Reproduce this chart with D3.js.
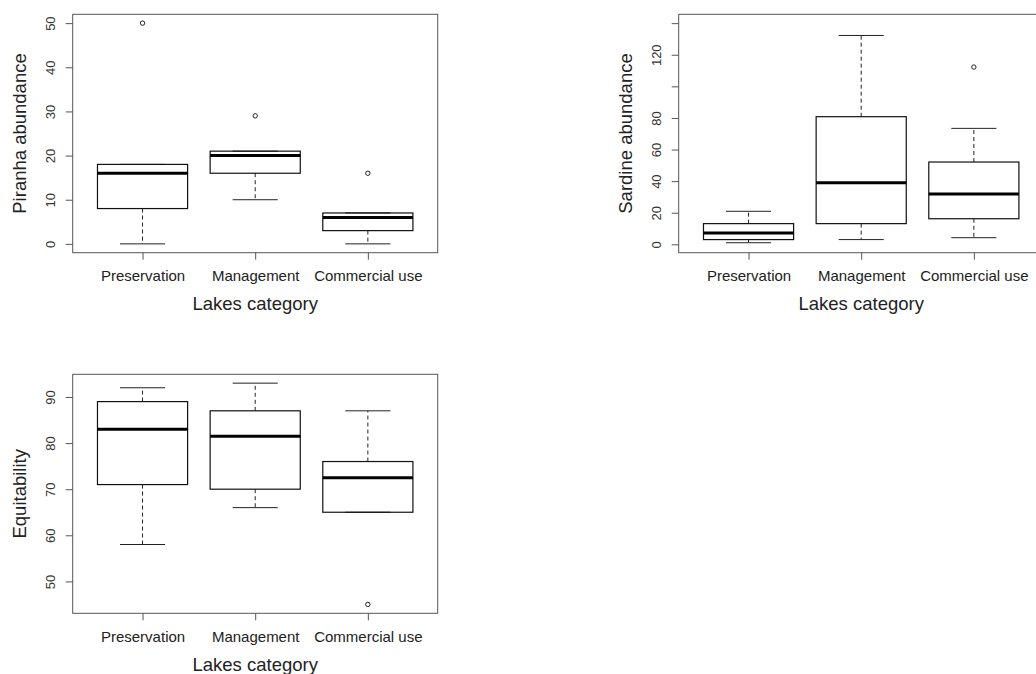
<!DOCTYPE html>
<html>
<head>
<meta charset="utf-8">
<script src="https://cdn.jsdelivr.net/npm/d3@7"></script>
<style>
  body { margin: 0; background: #fff; }
  svg { display: block; font-family: "Liberation Sans", Arial, sans-serif; }
</style>
</head>
<body>
<svg id="chart" width="1036" height="674"></svg>
<script>
const categories = ["Preservation", "Management", "Commercial use"];

// box stats per category: [lower whisker, Q1, median, Q3, upper whisker]
const piranhaStats = [[0, 8, 16, 18, 18], [10, 16, 20, 21, 21], [0, 3, 6, 7, 7]];
const piranhaOutliers = [[50], [29], [16]];
const piranhaTicks = [0, 10, 20, 30, 40, 50];
const piranhaTickLabels = ["0", "10", "20", "30", "40", "50"];

const sardineStats = [[1, 3, 7.2, 13.1, 20.9], [3, 13.1, 39, 80.8, 132.2], [4.2, 16.2, 31.8, 52.1, 73.4]];
const sardineOutliers = [[], [], [112.2]];
const sardineTicks = [0, 20, 40, 60, 80, 100, 120, 140];
const sardineTickLabels = ["0", "20", "40", "60", "80", "", "120", ""];

const equitStats = [[58, 71, 83, 89, 92], [66, 70, 81.5, 87, 93], [65, 65, 72.5, 76, 87]];
const equitOutliers = [[], [], [45]];
const equitTicks = [50, 60, 70, 80, 90];
const equitTickLabels = ["50", "60", "70", "80", "90"];

const svg = d3.select("#chart");

function drawPanel(p) {
  const { left, top, right, bottom } = p.box;
  const g = svg.append("g");

  const x = d3.scaleLinear().domain([0.38, 3.62]).range([left, right]);
  const y = d3.scaleLinear().domain(p.yDomain).range([bottom, top]);
  const bw = x(1.4) - x(1);   // half box width (box = 0.8 units)

  // y axis
  const ya = g.append("g")
    .attr("transform", `translate(${left},0)`)
    .call(d3.axisLeft(y).tickValues(p.ticks).tickSize(7)
      .tickFormat((d, i) => p.tickLabels[i]));
  ya.select(".domain").remove();
  ya.selectAll("line").attr("stroke", "#555");
  ya.selectAll("text")
    .attr("transform", "rotate(-90)")
    .attr("x", 0).attr("y", -17.5).attr("dy", 0)
    .attr("text-anchor", "middle")
    .attr("font-size", 13).attr("fill", "#333");

  // x axis
  const xa = g.append("g")
    .attr("transform", `translate(0,${bottom})`)
    .call(d3.axisBottom(x).tickValues([1, 2, 3]).tickSize(7)
      .tickFormat((d, i) => categories[i]));
  xa.select(".domain").remove();
  xa.selectAll("line").attr("stroke", "#555");
  xa.selectAll("text")
    .attr("y", 28.8).attr("dy", 0)
    .attr("font-size", 15).attr("fill", "#222");

  // boxes
  p.stats.forEach((s, i) => {
    const cx = x(i + 1);
    const [lo, q1, med, q3, hi] = s;
    const dash = "4,3";
    g.append("line").attr("x1", cx).attr("x2", cx).attr("y1", y(q1)).attr("y2", y(lo))
      .attr("stroke", "#222").attr("stroke-dasharray", dash);
    g.append("line").attr("x1", cx).attr("x2", cx).attr("y1", y(q3)).attr("y2", y(hi))
      .attr("stroke", "#222").attr("stroke-dasharray", dash);
    [lo, hi].forEach(v => {
      g.append("line").attr("x1", cx - bw / 2).attr("x2", cx + bw / 2)
        .attr("y1", y(v)).attr("y2", y(v)).attr("stroke", "#222");
    });
    g.append("rect")
      .attr("x", cx - bw).attr("y", y(q3))
      .attr("width", 2 * bw).attr("height", y(q1) - y(q3))
      .attr("fill", "none").attr("stroke", "#111").attr("stroke-width", 1.2);
    g.append("line").attr("x1", cx - bw).attr("x2", cx + bw)
      .attr("y1", y(med)).attr("y2", y(med))
      .attr("stroke", "#000").attr("stroke-width", 3);
    p.outliers[i].forEach(v => {
      g.append("circle").attr("cx", cx).attr("cy", y(v)).attr("r", 2.2)
        .attr("fill", "none").attr("stroke", "#222").attr("stroke-width", 1);
    });
  });

  // frame
  g.append("rect")
    .attr("x", left).attr("y", top)
    .attr("width", right - left).attr("height", bottom - top)
    .attr("fill", "none").attr("stroke", "#555").attr("stroke-width", 1);

  // titles
  g.append("text")
    .attr("x", (left + right) / 2).attr("y", bottom + 57.5)
    .attr("text-anchor", "middle").attr("font-size", 18.5).attr("fill", "#222")
    .text("Lakes category");
  g.append("text")
    .attr("transform", `translate(${left - 47},${(top + bottom) / 2}) rotate(-90)`)
    .attr("text-anchor", "middle").attr("font-size", 18.5).attr("fill", "#222")
    .text(p.yLabel);
}

drawPanel({
  box: { left: 72.7, top: 14.3, right: 437.7, bottom: 252.7 },
  yDomain: [-2, 52], ticks: piranhaTicks, tickLabels: piranhaTickLabels,
  stats: piranhaStats, outliers: piranhaOutliers, yLabel: "Piranha abundance"
});
drawPanel({
  box: { left: 678.7, top: 14.3, right: 1043.7, bottom: 252.7 },
  yDomain: [-5.3, 145.6], ticks: sardineTicks, tickLabels: sardineTickLabels,
  stats: sardineStats, outliers: sardineOutliers, yLabel: "Sardine abundance"
});
drawPanel({
  box: { left: 72.7, top: 374.3, right: 437.7, bottom: 613.3 },
  yDomain: [43.08, 94.92], ticks: equitTicks, tickLabels: equitTickLabels,
  stats: equitStats, outliers: equitOutliers, yLabel: "Equitability"
});
</script>
</body>
</html>
